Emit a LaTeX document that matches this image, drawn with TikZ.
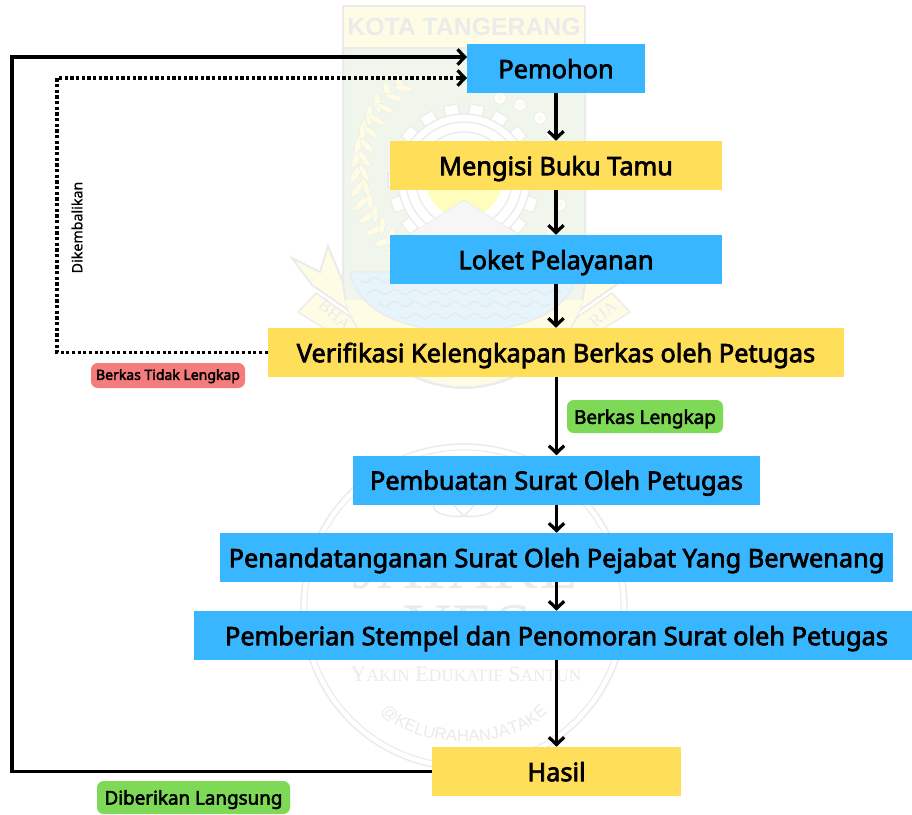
\documentclass[tikz,border=0pt]{standalone}
\usepackage{fontspec}
\setmainfont{Noto Sans}[AutoFakeBold=2.8]
\newfontfamily\medfont{Noto Sans}[FakeBold=0.7]
\newfontfamily\wmserif{Liberation Serif}
\newfontfamily\wmsans{Liberation Sans}
\usetikzlibrary{arrows.meta,decorations.text,calc}
\definecolor{boxblue}{HTML}{38B6FF}
\definecolor{boxyellow}{HTML}{FFDE59}
\definecolor{pillgreen}{HTML}{7ED957}
\definecolor{pillred}{HTML}{F47C7C}
\definecolor{wmgray}{HTML}{EBEBEB}
\definecolor{wmgreen}{HTML}{F0F6EC}
\definecolor{wmyellow}{HTML}{FFFCE5}
\definecolor{wmblue}{HTML}{E6F5FB}
\definecolor{wmwave}{HTML}{E9E9E9}
\definecolor{wmlav}{HTML}{E8E8F5}
\tikzset{
  flowbox/.style={rectangle,inner sep=0pt,minimum height=36.75pt,font=\bfseries\fontsize{19}{21}\selectfont,text=black,text height=16pt,text depth=1.5pt,align=center},
  bluebox/.style={flowbox,fill=boxblue},
  yellowbox/.style={flowbox,fill=boxyellow},
  pill/.style={rectangle,rounded corners=5pt,inner sep=0pt,text=black},
  flowline/.style={line width=2.6pt,color=black,miter limit=10},
  flowarrow/.style={flowline,-{Straight Barb[length=5.5pt,width=11.5pt,line width=2.4pt]}},
  dotline/.style={line width=2.5pt,color=black,dash pattern=on 2.4pt off 1.85pt},
  wmline/.style={draw=wmgray,line width=1pt},
}
\begin{document}
\begin{tikzpicture}[x=0.75pt,y=-0.75pt]
\useasboundingbox (0,0) rectangle (912,814);
\fill[white] (0,0) rectangle (912,814);
% ---------- pale watermark: city crest
\foreach \m in {1,-1}{
  \begin{scope}[shift={({(1-\m)*464},0)},xscale=\m]
    \filldraw[fill=wmyellow,wmline,line width=1.5pt] (292,258) -- (320,272) -- (328,246) -- (345,287) -- (348,310) -- (312,285) -- cycle;
    \filldraw[fill=wmyellow,wmline,line width=1pt] (298,312) -- (316,293) -- (372,332) -- (362,352) -- cycle;
  \end{scope}
}
\filldraw[fill=wmgreen,wmline,line width=1.5pt] (343,48) -- (343,280) .. controls (345,345) and (410,388) .. (464,388) .. controls (518,388) and (583,345) .. (585,280) -- (585,48) -- cycle;
\fill[wmyellow] (345,300) .. controls (360,350) and (415,386) .. (464,386) .. controls (513,386) and (568,350) .. (583,300) -- cycle;
\filldraw[fill=wmblue,wmline] (350,272) -- (578,272) .. controls (570,310) and (530,330) .. (464,332) .. controls (398,330) and (358,310) .. (350,272) -- cycle;
\foreach \yy/\xa/\xb in {280/360/568,292/366/562,304/378/550,316/400/528}{
  \draw[wmwave,line width=1.1pt] plot[domain=\xa:\xb,samples=60,smooth] (\x,{\yy+2.5*sin(\x*18)});
}
\filldraw[fill=wmyellow,wmline,line width=1.5pt] (343,6) rectangle (585,48);
\node[font=\wmsans\bfseries\fontsize{18.6}{20}\selectfont,text=wmgray,inner sep=0pt] (wmtitle) at (464,27) {KOTA TANGERANG};
\foreach \a in {0,20,...,340}{
  \fill[white,draw=wmgray,line width=.8pt] ($(464,180)+(\a:64)$) ++(\a-90:7) -- ++(\a:12) -- ++(\a+90:14) -- ++(\a+180:12) -- cycle;
}
\filldraw[fill=white,draw=wmgray,line width=1pt] (464,180) circle (66);
\draw[wmgray,line width=1pt] (464,180) circle (58);
\draw[wmgray,line width=1pt] (464,180) circle (48);
\fill[wmyellow!70!yellow!70!white] (464,180) circle (38);
\filldraw[fill=wmgray!45,draw=wmgray] (464,200) -- (404,238) -- (524,238) -- cycle;
\foreach \a in {105,113,...,235}{
  \coordinate (leafo) at ($(464,168)+(\a:108)$);
  \coordinate (leafi) at ($(464,168)+(\a:100)$);
  \filldraw[fill=wmyellow,draw=wmgray,line width=.3pt,rotate around={\a+60:(leafo)}] (leafo) ellipse (10 and 3.5);
  \filldraw[fill=wmyellow,draw=wmgray,line width=.3pt,rotate around={\a-60:(leafi)}] (leafi) ellipse (9 and 3);
}
\foreach \px/\py in {500/98,520/105,540/118,552/135,558/160,560/205,552/230}{
  \filldraw[fill=white,draw=wmgray,line width=.5pt] (\px,\py) circle (6);
  \fill[wmyellow] (\px,\py) circle (3);
}
\node[font=\wmserif\fontsize{13}{14}\selectfont,text=wmgray,rotate=-42,inner sep=0pt] (wmleft) at (335,315) {BHA};
\node[font=\wmserif\fontsize{13}{14}\selectfont,text=wmgray,rotate=42,inner sep=0pt] (wmright) at (603,314) {RJA};
% ---------- pale watermark: round stamp
\draw[wmgray,line width=1.1pt] (464,607) circle (163);
\draw[wmgray,line width=.8pt] (464,607) circle (157);
\draw[wmlav,line width=1pt] (464,516) .. controls (445,518) and (430,512) .. (434,503);
\draw[wmlav,line width=1pt] (464,516) .. controls (483,518) and (498,512) .. (498,503);
\draw[wmlav,line width=1pt] (464,516) .. controls (455,508) and (455,504) .. (450,503);
\draw[wmlav,line width=1pt] (464,516) .. controls (473,508) and (473,504) .. (478,503);
\node[font=\wmserif\fontsize{47}{49}\selectfont,text=wmgray,inner sep=0pt,anchor=base] (wmjatake) at (465,588) {JATAKE};
\node[font=\wmserif\fontsize{51}{53}\selectfont,text=wmgray,inner sep=0pt,anchor=base] (wmyes) at (468,650) {YES};
\node[font=\wmserif\fontsize{16.5}{18}\selectfont,text=wmgray,inner sep=0pt] (wmmotto) at (466,674) {Y{\fontsize{13}{14}\selectfont AKIN} E{\fontsize{13}{14}\selectfont DUKATIF} S{\fontsize{13}{14}\selectfont ANTUN}};
\path[postaction={decorate},decoration={text along path,text align=center,text={|\wmsans\fontsize{12.5}{14}\selectfont\color{wmgray}|@KELURAHANJATAKE}}] (372,702) .. controls (405,755) and (523,755) .. (556,702);
% ---------- flow boxes
\node[bluebox,minimum width=133.5pt] (pemohon) at (556,68.5) {Pemohon};
\node[yellowbox,minimum width=249pt] (bukutamu) at (556,165.5) {Mengisi Buku Tamu};
\node[bluebox,minimum width=249pt] (loket) at (556,259.5) {Loket Pelayanan};
\node[yellowbox,minimum width=432pt] (verifikasi) at (556,352.5) {Verifikasi Kelengkapan Berkas oleh Petugas};
\node[bluebox,minimum width=305.25pt] (pembuatan) at (556.5,480) {Pembuatan Surat Oleh Petugas};
\node[bluebox,minimum width=504.75pt] (ttd) at (556.5,557.5) {Penandatanganan Surat Oleh Pejabat Yang Berwenang};
\node[bluebox,minimum width=538.5pt] (stempel) at (553,635.5) {\hspace*{5.25pt}Pemberian Stempel dan Penomoran Surat oleh Petugas};
\node[yellowbox,minimum width=186.75pt] (hasil) at (556.5,771.5) {Hasil};
% ---------- labels
\node[pill,fill=pillred,minimum width=115.5pt,minimum height=18.75pt,text height=9pt,text depth=2.5pt,font=\bfseries\fontsize{10.5}{12}\selectfont] (tidaklengkap) at (168,375.5) {Berkas Tidak Lengkap};
\node[pill,fill=pillgreen,minimum width=117pt,minimum height=24.75pt,text height=12pt,text depth=1pt,font=\bfseries\fontsize{14.2}{16}\selectfont] (lengkap) at (645,416.5) {Berkas Lengkap};
\node[pill,fill=pillgreen,minimum width=144.75pt,minimum height=24.75pt,text height=12pt,text depth=1.5pt,font=\bfseries\fontsize{14.1}{16}\selectfont] (langsung) at (193.5,797.5) {Diberikan Langsung};
\node[rotate=90,inner sep=0pt,font=\medfont\fontsize{10.7}{12}\selectfont] (dikembalikan) at (77,227.5) {Dikembalikan};
% ---------- connectors
\draw[flowarrow] (pemohon.south) -- (bukutamu.north);
\draw[flowarrow] (bukutamu.south) -- (loket.north);
\draw[flowarrow] (loket.south) -- (verifikasi.north);
\draw[flowarrow] (verifikasi.south -| pembuatan.north) -- (pembuatan.north);
\draw[flowarrow] (pembuatan.south) -- (ttd.north);
\draw[flowarrow] (ttd.south) -- (ttd.south |- stempel.north);
\draw[flowarrow] (hasil.north |- stempel.south) -- (hasil.north);
\coordinate (solidin) at (467,57);
\coordinate (dotin) at (467,78);
\coordinate (solidlow) at (12,771.5);
\coordinate (solidhigh) at (12,57);
\coordinate (dotlow) at (57,352.5);
\coordinate (dothigh) at (57,78);
\draw[flowarrow] (hasil.west) -- (solidlow) -- (solidhigh) -- (solidin);
\draw[dotline] (verifikasi.west) -- (dotlow) -- (dothigh) -- ($(dotin)+(-7,0)$);
\draw[flowline,-{Straight Barb[length=5.5pt,width=11.5pt,line width=2.4pt]}] ($(dotin)+(-8,0)$) -- (dotin);
\end{tikzpicture}
\end{document}
